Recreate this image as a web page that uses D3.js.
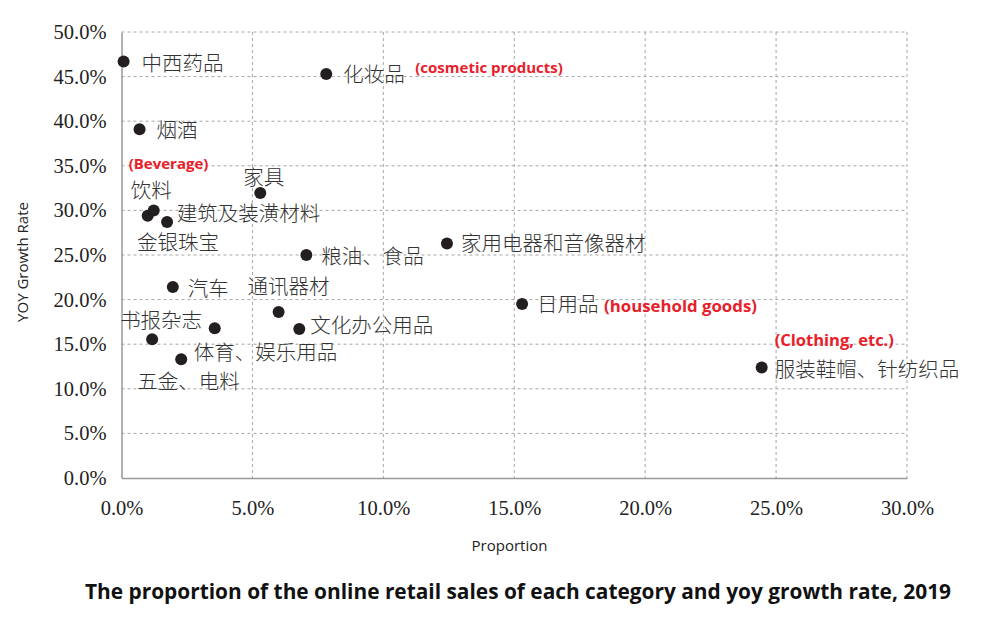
<!DOCTYPE html>
<html><head><meta charset="utf-8">
<script src="https://cdn.jsdelivr.net/npm/d3@7"></script>
<style>body{margin:0;background:#fff;} svg{display:block;}</style>
</head><body><svg id="c" width="992" height="630"></svg>
<script>
const categories = ["中西药品","化妆品","烟酒","家具","饮料","建筑及装潢材料","金银珠宝","粮油、食品","家用电器和音像器材","汽车","通讯器材","文化办公用品","书报杂志","体育、娱乐用品","五金、电料","日用品","服装鞋帽、针纺织品"];
const proportion = [0.08, 7.82, 0.69, 5.3, 1.0, 1.23, 1.74, 7.06, 12.43, 1.96, 6.0, 6.79, 1.17, 3.56, 2.28, 15.3, 24.45];
const growth = [46.7, 45.3, 39.1, 31.95, 29.4, 30.0, 28.7, 25.0, 26.3, 21.4, 18.6, 16.7, 15.55, 16.8, 13.3, 19.5, 12.4];
const xTicks = [0, 5, 10, 15, 20, 25, 30];
const yTicks = [0, 5, 10, 15, 20, 25, 30, 35, 40, 45, 50];
const notes = ["(Beverage)", "(cosmetic products)", "(household goods)", "(Clothing, etc.)"];
const noteFor = ["饮料", "化妆品", "日用品", "服装鞋帽、针纺织品"];

// layout only (label offsets in px, note sizes)
const labelOffsets = {
  "中西药品":[18,1],"化妆品":[17,-1],"烟酒":[17,0],"家具":[-17,-17],"饮料":[-17,-27],
  "建筑及装潢材料":[23,2],"金银珠宝":[-30,19],"粮油、食品":[15,0],"家用电器和音像器材":[14,-1],
  "汽车":[15,0],"通讯器材":[-31,-27],"文化办公用品":[11,-5],"书报杂志":[-32,-20],
  "体育、娱乐用品":[-21,23],"五金、电料":[-44,21],"日用品":[15,-1],"服装鞋帽、针纺织品":[13,1]
};
const noteOffsets = {"饮料":[-19,-53],"化妆品":[89,-7],"日用品":[82,1],"服装鞋帽、针纺织品":[13,-28]};
const noteSizes = {"饮料":15,"化妆品":15,"日用品":16.8,"服装鞋帽、针纺织品":16.5};

const svg = d3.select("#c");
const L = 121.5, R = 907, T = 32, B = 478;
const x = d3.scaleLinear().domain([0,30]).range([L,R]);
const y = d3.scaleLinear().domain([0,50]).range([B,T]);
const fmt = d => d.toFixed(1) + "%";

// grid
const g = svg.append("g");
g.selectAll(".vg").data(xTicks.filter(d=>d>0)).join("line")
  .attr("x1", d=>x(d)).attr("x2", d=>x(d)).attr("y1", T).attr("y2", B)
  .attr("stroke","#a6a6a6").attr("stroke-width",1).attr("stroke-dasharray","3,3");
g.selectAll(".hg").data(yTicks.filter(d=>d>0)).join("line")
  .attr("y1", d=>y(d)).attr("y2", d=>y(d)).attr("x1", L).attr("x2", R)
  .attr("stroke","#a6a6a6").attr("stroke-width",1).attr("stroke-dasharray","3,3");

// axes
const xAxis = svg.append("g").attr("transform",`translate(0,${B})`)
  .call(d3.axisBottom(x).tickValues(xTicks).tickFormat(fmt).tickSize(0).tickPadding(22));
const yAxis = svg.append("g").attr("transform",`translate(${L},0)`)
  .call(d3.axisLeft(y).tickValues(yTicks).tickFormat(fmt).tickSize(0).tickPadding(15));
[xAxis,yAxis].forEach(a=>{
  a.select(".domain").attr("stroke","#999").attr("stroke-width",1.5);
  a.selectAll("text").attr("font-family","'Liberation Serif', serif").attr("font-size",20.5).attr("fill","#222");
});

// points
const data = categories.map((c,i)=>({c, p:proportion[i], g:growth[i]}));
svg.selectAll(".dot").data(data).join("circle")
  .attr("cx", d=>x(d.p)).attr("cy", d=>y(d.g)).attr("r",6).attr("fill","#231f20");

svg.selectAll(".lbl").data(data).join("text")
  .attr("x", d=>x(d.p)+labelOffsets[d.c][0]).attr("y", d=>y(d.g)+labelOffsets[d.c][1])
  .attr("dominant-baseline","central")
  .attr("font-family","'Noto Sans CJK SC', sans-serif").attr("font-weight",300)
  .attr("font-size",20.5).attr("fill","#333").text(d=>d.c);

svg.selectAll(".note").data(notes).join("text")
  .each(function(n,i){
    const d = data.find(e=>e.c===noteFor[i]);
    const o = noteOffsets[noteFor[i]];
    d3.select(this).attr("x", x(d.p)+o[0]).attr("y", y(d.g)+o[1]).attr("font-size", noteSizes[noteFor[i]]);
  })
  .attr("dominant-baseline","central")
  .attr("font-family","'Open Sans', sans-serif").attr("font-weight",700)
  .attr("fill","#e8202a").text(d=>d);

// axis titles
svg.append("text").attr("x",509.5).attr("y",545).attr("text-anchor","middle").attr("dominant-baseline","central")
  .attr("font-family","'Open Sans', sans-serif").attr("font-size",15).attr("fill","#222").text("Proportion");
svg.append("text").attr("transform","translate(22,262) rotate(-90)").attr("text-anchor","middle").attr("dominant-baseline","central")
  .attr("font-family","'Open Sans', sans-serif").attr("font-size",15).attr("fill","#222").text("YOY Growth Rate");
svg.append("text").attr("x",85).attr("y",591).attr("dominant-baseline","central")
  .attr("font-family","'Open Sans', sans-serif").attr("font-weight",700).attr("font-size",20.5).attr("fill","#111")
  .attr("textLength",866).attr("lengthAdjust","spacingAndGlyphs")
  .text("The proportion of the online retail sales of each category and yoy growth rate, 2019");
</script></body></html>
